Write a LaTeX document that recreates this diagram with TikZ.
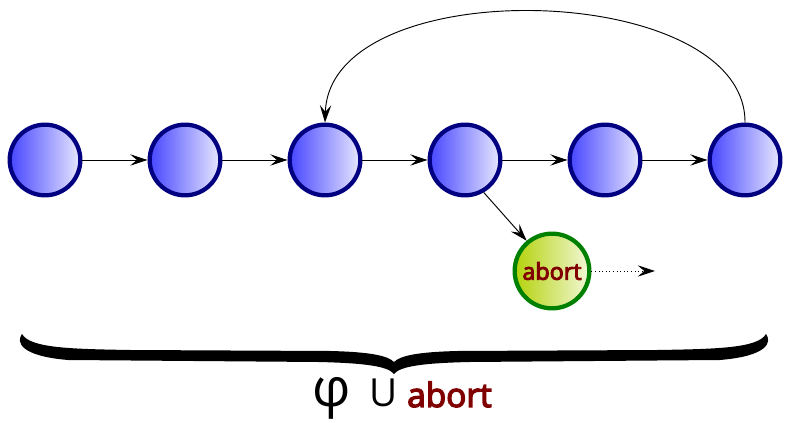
\documentclass[tikz,border=0pt]{standalone}
\usepackage{fontspec}
\setmainfont{Open Sans}
\newfontfamily\semifont[FakeBold=4,BoldFont={Open Sans},BoldFeatures={FakeBold=4}]{Open Sans}
\usetikzlibrary{arrows.meta, positioning, calc}
\definecolor{statenavy}{RGB}{0, 0, 128}
\definecolor{stateblue}{RGB}{70, 70, 255}
\definecolor{statelight}{RGB}{232, 232, 255}
\definecolor{abortgreen}{RGB}{0, 128, 0}
\definecolor{abortlime}{RGB}{180, 210, 10}
\definecolor{abortlight}{RGB}{242, 248, 215}
\definecolor{abortred}{RGB}{128, 0, 0}
\tikzset{
  flowarrow/.style={-{Stealth[length=13pt, width=8.5pt, inset=5pt]}, line width=0.7pt, black},
  statenode/.style={circle, draw=statenavy, line width=3.2pt, left color=stateblue, right color=statelight, minimum size=53pt, inner sep=0pt},
  abortnode/.style={circle, draw=abortgreen, line width=3.2pt, left color=abortlime, right color=abortlight, minimum size=56pt, inner sep=0pt, text=abortred, font=\fontsize{17.5}{17.5}\semifont\bfseries}
}
\begin{document}
\begin{tikzpicture}[x=0.75pt, y=-0.75pt]
\useasboundingbox (0,0) rectangle (786,423);
% chain of states
\foreach \i/\x in {1/45, 2/185, 3/325, 4/465, 5/605, 6/745} {
  \node[statenode] (n\i) at (\x,160) {};
}
\foreach \i/\j in {1/2, 2/3, 3/4, 4/5, 5/6} {
  \draw[flowarrow] (n\i) -- (n\j);
}
% back edge from the last state
\draw[flowarrow] (n6.north) .. controls (746,-20) and (330,-30) .. (n3.north);
% abort branch
\node[abortnode] (ab) at (552,271) {abort};
\coordinate (abend) at (655,271);
\draw[flowarrow] (n4.-60) -- (ab.130);
\draw[flowarrow, dotted] (ab.east) -- (abend);
% brace under the whole run
\fill[black] (22,334) .. controls (30,348) and (70,349) .. (130,350)
  -- (330,351) .. controls (372,352) and (388,356) .. (394,362)
  .. controls (400,356) and (416,352) .. (458,351)
  -- (658,350) .. controls (718,349) and (758,348) .. (766,334)
  .. controls (772,342) and (768,356) .. (720,360)
  -- (470,362) .. controls (425,363) and (400,366) .. (394,374)
  .. controls (388,366) and (363,363) .. (318,362)
  -- (68,360) .. controls (20,356) and (16,342) .. (22,334) -- cycle;
% label below the brace
\node[anchor=base, inner sep=0pt, font=\fontsize{40}{40}\selectfont] (phi) at (332,407) {φ};
\node[anchor=base, inner sep=0pt, font=\fontsize{29}{29}\selectfont] (union) at (384,407) {U};
\node[anchor=base west, inner sep=0pt, text=abortred, font=\fontsize{25}{25}\semifont\bfseries] (abtext) at (407,407) {abort};
\end{tikzpicture}
\end{document}
